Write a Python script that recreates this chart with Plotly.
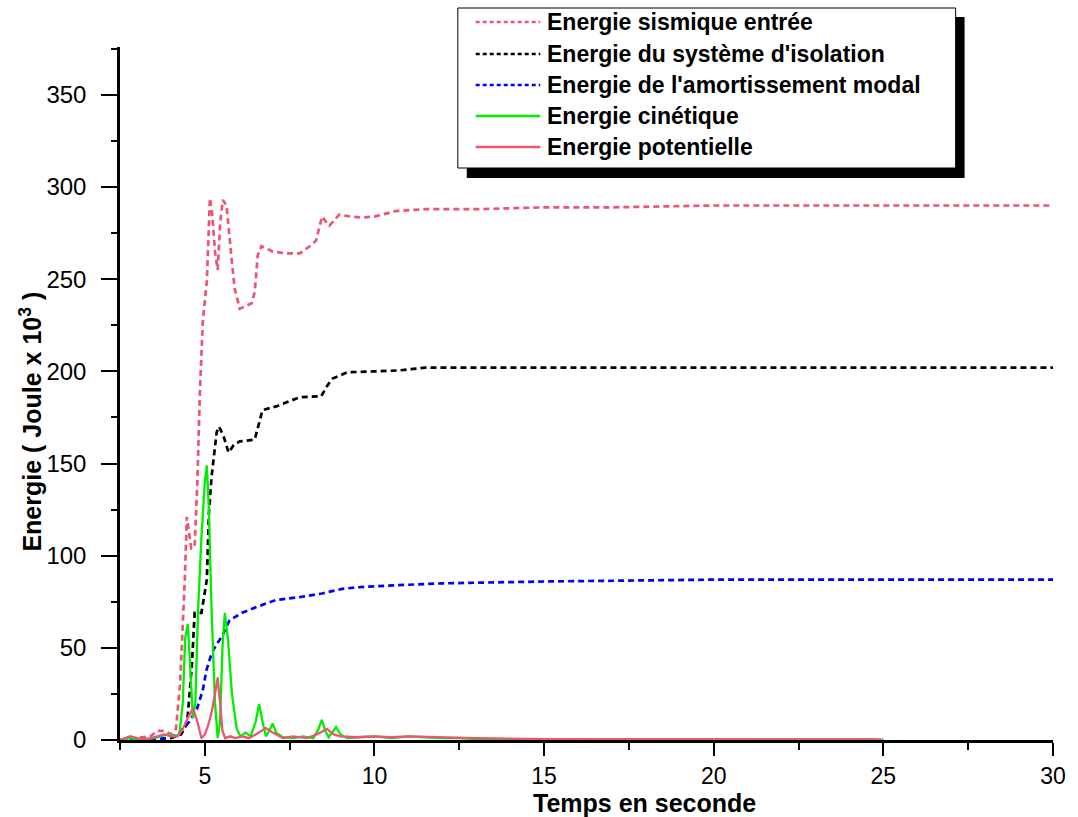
import plotly.graph_objects as go

# ---- data ----
t_sismique = [2.5, 3.0, 3.4, 3.6, 3.8, 4.0, 4.15, 4.27, 4.35, 4.41, 4.47, 4.52, 4.6, 4.7, 4.78, 4.85,
              4.94, 5.06, 5.15, 5.22, 5.3, 5.38, 5.45, 5.53, 5.64, 5.8, 5.88, 6.03, 6.38, 6.47, 6.56,
              6.67, 7.0, 7.4, 7.8, 8.1, 8.28, 8.4, 8.46, 8.58, 8.67, 8.96, 9.3, 9.63, 10.0, 10.63,
              11.5, 13, 15, 17, 20, 25, 30]
e_sismique = [0, 1, 2, 5, 5, 3, 6, 30, 60, 87, 121, 115, 104, 105, 140, 186,
              227, 249, 294, 285, 265, 255, 280, 293, 290, 259, 245, 234, 237, 243, 263,
              268, 265, 264, 264, 268, 271, 280, 284, 281, 279, 285, 284, 283.5, 284, 287,
              288, 288, 289, 289, 290, 290, 290]

t_isolation = [2.5, 3.5, 4.0, 4.3, 4.45, 4.5, 4.62, 4.7, 4.9, 5.06, 5.12, 5.2, 5.35, 5.42, 5.55,
               5.7, 5.85, 6.03, 6.47, 6.6, 6.7, 7.1, 7.8, 8.43, 8.6, 8.75, 9.2, 10.0, 10.7, 11.5,
               13, 15, 20, 25, 30]
e_isolation = [0, 0.5, 1, 3, 8, 14, 41, 69, 69, 87, 123, 143, 167, 170, 165,
               156, 160, 162, 163, 172, 179, 181, 186, 186.5, 192, 196, 199.5, 200, 200.5, 202,
               202, 202, 202, 202, 202]

t_amort = [2.5, 3.5, 3.9, 4.2, 4.35, 4.55, 4.77, 4.94, 5.05, 5.2, 5.35, 5.5, 5.73, 6.1, 6.5,
           7.1, 7.8, 8.45, 9.05, 9.6, 10.7, 12, 15, 20, 25, 30]
e_amort = [0, 0.3, 1, 3, 6, 10, 17, 27, 38, 47, 52, 56, 65, 69, 72,
           76, 77.5, 79.5, 82, 83, 84, 85, 86, 87, 87, 87]

t_cinetique = [2.5, 2.8, 3.0, 3.3, 3.5, 3.7, 3.9, 4.1, 4.25, 4.35, 4.42, 4.5, 4.57, 4.65, 4.72,
               4.8, 4.9, 5.0, 5.06, 5.12, 5.2, 5.3, 5.38, 5.45, 5.52, 5.59, 5.68, 5.8, 5.94,
               6.05, 6.2, 6.35, 6.5, 6.6, 6.7, 6.8, 6.9, 7.0, 7.1, 7.3, 7.6, 7.9, 8.2, 8.35,
               8.45, 8.55, 8.65, 8.75, 8.87, 9.0, 9.2, 9.5, 10, 10.5, 11, 11.5, 12, 12.5, 13,
               14, 15, 16, 17, 18, 19, 20, 22.5, 24.7, 25]
e_cinetique = [0, 1, 0, 0.5, 1, 2, 3, 2, 3, 20, 55, 63, 40, 12, 20,
               70, 110, 140, 149, 125, 70, 20, 1, 10, 50, 69, 55, 25, 6,
               2, 4, 2, 10, 19.5, 10, 2, 5, 9, 4, 1.5, 1, 2, 1, 6,
               11, 5, 1.5, 4, 7, 3, 1, 1.5, 2, 1, 2, 1.5, 1, 1, 0.5,
               0.5, 0.5, 0.5, 0.5, 0.5, 0.3, 0.3, 0.5, 0.3, 0]

t_potentielle = [2.5, 2.8, 3.0, 3.3, 3.6, 3.8, 4.0, 4.2, 4.35, 4.5, 4.65, 4.78, 4.9, 5.0, 5.1,
                 5.2, 5.3, 5.38, 5.45, 5.52, 5.6, 5.75, 5.9, 6.1, 6.3, 6.5, 6.8, 7.0, 7.3, 7.6,
                 8.0, 8.3, 8.6, 8.8, 9.0, 9.5, 10, 10.5, 11, 12, 13, 15, 18, 20, 24.7, 25]
e_potentielle = [0, 2, 1, 0.5, 2, 3, 2, 2, 6, 12, 17, 10, 1, 3, 8,
                 15, 25, 34, 20, 5, 1, 2, 1, 2, 1, 3, 6.5, 4, 1, 2,
                 1, 3, 6, 3, 2, 1.5, 2, 1.5, 2, 1.5, 1, 0.5, 0.5, 0.3, 0.3, 0]

names = ["Energie sismique entrée", "Energie du système d'isolation",
         "Energie de l'amortissement modal", "Energie cinétique", "Energie potentielle"]
colors = ["#EC5573", "#000000", "#0000FF", "#00EE00", "#EC5573"]
dashes = ["6px,4px", "6px,4px", "6px,4px", "solid", "solid"]
widths = [2.7, 2.7, 2.7, 2.3, 2.3]
series = [(t_sismique, e_sismique), (t_isolation, e_isolation), (t_amort, e_amort),
          (t_cinetique, e_cinetique), (t_potentielle, e_potentielle)]

x_ticks = [5, 10, 15, 20, 25, 30]
y_ticks = [0, 50, 100, 150, 200, 250, 300, 350]

FONT = "Liberation Sans, Arial, sans-serif"

fig = go.Figure()
for i in range(5):
    t, e = series[i]
    fig.add_trace(go.Scatter(x=t, y=e, mode="lines", name=names[i], showlegend=False,
                             line=dict(color=colors[i], width=widths[i], dash=dashes[i])))

FW, FH = 1078, 817
L, R, T, B = 120, 1059, 47, 740
W, H = R - L, B - T

def px(x):
    return (x - L) / W

def py(y):
    return (B - y) / H

shapes = []
shapes.append(dict(type="rect", xref="paper", yref="paper", x0=px(469), x1=px(970), y0=py(178), y1=py(17),
                   fillcolor="black", line=dict(width=0), layer="above"))
shapes.append(dict(type="rect", xref="paper", yref="paper", x0=px(460), x1=px(961), y0=py(168), y1=py(8),
                   fillcolor="white", line=dict(color="black", width=1), layer="above"))
annotations = []
item_y = [22, 54, 85, 116, 147]
for i, nm in enumerate(names):
    yy = py(item_y[i])
    shapes.append(dict(type="line", xref="paper", yref="paper", x0=px(478), x1=px(543), y0=yy, y1=yy,
                       line=dict(color=colors[i], width=2.5, dash=("4px,3px" if dashes[i] != "solid" else "solid")),
                       layer="above"))
    annotations.append(dict(text="<b>" + nm + "</b>", xref="paper", yref="paper", x=px(548), y=yy,
                            xanchor="left", yanchor="middle", showarrow=False,
                            font=dict(family=FONT, size=23, color="black")))

annotations.append(dict(text="<b>Temps en seconde</b>", xref="paper", yref="paper", x=px(648), y=py(803),
                        xanchor="center", yanchor="middle", showarrow=False,
                        font=dict(family=FONT, size=25, color="black")))
annotations.append(dict(text="<b>Energie ( Joule x 10<sup>3</sup> )</b>", xref="paper", yref="paper",
                        x=px(30), y=py(422), xanchor="center", yanchor="middle", textangle=-90,
                        showarrow=False, font=dict(family=FONT, size=25, color="black")))

fig.update_layout(
    width=FW, height=FH,
    margin=dict(l=L, r=FW - R, t=T, b=FH - B),
    paper_bgcolor="white", plot_bgcolor="white",
    showlegend=False,
    shapes=shapes, annotations=annotations,
    font=dict(family=FONT, color="black"),
)
fig.update_xaxes(range=[2.5, 30], tickvals=x_ticks, ticktext=[str(v) for v in x_ticks],
                 showline=True, linecolor="black", linewidth=2.5, ticks="outside", ticklen=13,
                 tickwidth=2, tickcolor="black", showgrid=False, zeroline=False,
                 ticklabeloverflow="allow", ticklabelstandoff=1,
                 tickfont=dict(family=FONT, size=23, color="black"),
                 minor=dict(tickvals=[2.5, 7.5, 12.5, 17.5, 22.5, 27.5], ticks="outside", ticklen=7,
                            tickwidth=2, tickcolor="black", showgrid=False))
fig.update_yaxes(range=[0, 376], tickvals=y_ticks, ticktext=[str(v) for v in y_ticks],
                 showline=True, linecolor="black", linewidth=2.5, ticks="outside", ticklen=16,
                 tickwidth=2, tickcolor="black", showgrid=False, zeroline=False,
                 ticklabelstandoff=10,
                 tickfont=dict(family=FONT, size=24, color="black"),
                 minor=dict(tickvals=[25, 75, 125, 175, 225, 275, 325, 375], ticks="outside", ticklen=6,
                            tickwidth=2, tickcolor="black", showgrid=False))

# remove the page's default 8px body margin so the figure fills the window exactly
fig.write_html("out.html", config={"displayModeBar": False},
               post_script="document.body.style.margin='0';document.body.style.overflow='hidden';")
